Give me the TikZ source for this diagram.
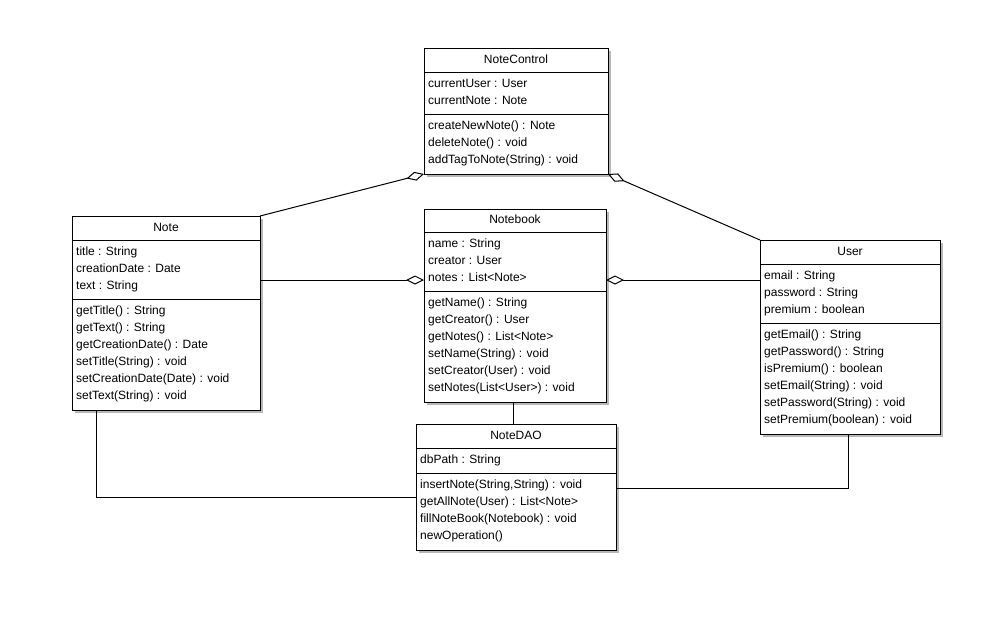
\documentclass[tikz,border=0pt]{standalone}
\usepackage{fontspec}
\setmainfont{Liberation Sans}
\usetikzlibrary{arrows.meta,calc}
\tikzset{
  box/.style={draw, line width=1pt, fill=white, rectangle, inner sep=0pt, outer sep=0pt, anchor=north west},
  sepline/.style={line width=1pt},
  txt/.style={anchor=base west, inner sep=0pt, font=\fontsize{12}{14}\selectfont},
  ttl/.style={anchor=base, inner sep=0pt, font=\fontsize{12}{14}\selectfont},
  conn/.style={line width=1pt},
  agg/.style={conn, -{Diamond[open, length=18pt, width=9pt, line width=1pt]}},
  shadowc/.style={fill=black!28},
}
% name L T R S1 S2 B title
\newcommand\classbox[8]{%
  \fill[shadowc] (#2+2.5,#3+2.5) rectangle (#4+2.5,#7+2.5);
  \node[box, minimum width={#4pt-#2pt}, minimum height={#7pt-#3pt}] (#1) at (#2,#3) {};
  \draw[sepline] (#2,#5) -- (#4,#5);
  \draw[sepline] (#2,#6) -- (#4,#6);
  \node[ttl] (#1-t) at ({(#2+#4)/2},#5-9) {#8};
}
\begin{document}
\begin{tikzpicture}[x=1pt,y=-1pt]
\useasboundingbox (0,0) rectangle (1000,622);
\fill[white] (0,0) rectangle (1000,622);

% NoteControl
\classbox{nc}{424}{48}{608}{72}{114}{174}{NoteControl}
\foreach \t [count=\i] in {{currentUser : User},{currentNote : Note}}
  \node[txt] (nc-a\i) at (428,72-1.5+17*\i) {\t};
\foreach \t [count=\i] in {{createNewNote() : Note},{deleteNote() : void},{addTagToNote(String) : void}}
  \node[txt] (nc-m\i) at (428,114-1.5+17*\i) {\t};

% Note
\classbox{note}{72}{216}{260}{240}{299}{410}{Note}
\foreach \t [count=\i] in {{title : String},{creationDate : Date},{text : String}}
  \node[txt] (note-a\i) at (76,240-1.5+17*\i) {\t};
\foreach \t [count=\i] in {{getTitle() : String},{getText() : String},{getCreationDate() : Date},{setTitle(String) : void},{setCreationDate(Date) : void},{setText(String) : void}}
  \node[txt] (note-m\i) at (76,299-1.5+17*\i) {\t};

% Notebook
\classbox{nb}{424}{209}{606}{232}{291}{402}{Notebook}
\foreach \t [count=\i] in {{name : String},{creator : User},{notes : List<Note>}}
  \node[txt] (nb-a\i) at (428,232-1.5+17*\i) {\t};
\foreach \t [count=\i] in {{getName() : String},{getCreator() : User},{getNotes() : List<Note>},{setName(String) : void},{setCreator(User) : void},{setNotes(List<User>) : void}}
  \node[txt] (nb-m\i) at (428,291-1.5+17*\i) {\t};

% User
\classbox{user}{760}{240}{940}{264}{323}{434}{User}
\foreach \t [count=\i] in {{email : String},{password : String},{premium : boolean}}
  \node[txt] (user-a\i) at (764,264-1.5+17*\i) {\t};
\foreach \t [count=\i] in {{getEmail() : String},{getPassword() : String},{isPremium() : boolean},{setEmail(String) : void},{setPassword(String) : void},{setPremium(boolean) : void}}
  \node[txt] (user-m\i) at (764,323-1.5+17*\i) {\t};

% NoteDAO
\classbox{dao}{416}{424}{616}{448}{473}{550}{NoteDAO}
\foreach \t [count=\i] in {{dbPath : String}}
  \node[txt] (dao-a\i) at (420,448-1.5+17*\i) {\t};
\foreach \t [count=\i] in {{insertNote(String,String) : void},{getAllNote(User) : List<Note>},{fillNoteBook(Notebook) : void},{newOperation()}}
  \node[txt] (dao-m\i) at (420,473-1.5+17*\i) {\t};

% helper coordinates
\coordinate (y280) at (0,280);
\coordinate (y497) at (0,497);
\coordinate (y488) at (0,488);
\coordinate (x96) at (96,0);
\coordinate (x848) at (848,0);
\coordinate (x513) at (513,0);

% connectors
\draw[agg] (note.north east) -- (nc.south west);
\draw[agg] (user.north west) -- (nc.south east);
\draw[agg] (note.east |- y280) -- (nb.west |- y280);
\draw[agg] (user.west |- y280) -- (nb.east |- y280);
\draw[conn] (x513 |- nb.south) -- (x513 |- dao.north);
\draw[conn] (x96 |- note.south) |- (dao.west |- y497);
\draw[conn] (x848 |- user.south) |- (dao.east |- y488);
\end{tikzpicture}
\end{document}
